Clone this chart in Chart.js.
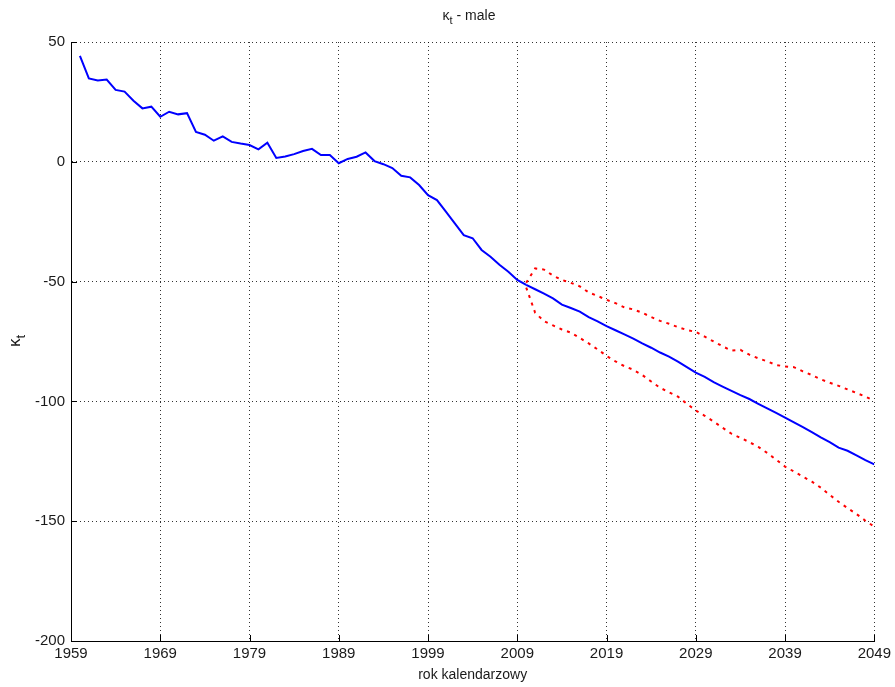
<!DOCTYPE html>
<html>
<head>
<meta charset="utf-8">
<script src="https://cdn.jsdelivr.net/npm/chart.js@4.4.0/dist/chart.umd.min.js"></script>
<style>
  body { margin: 0; background: #fff; }
</style>
</head>
<body>
<canvas id="chart" width="895" height="687"></canvas>
<script>
// observed kappa_t (males), 1960-2010
const histYears = [1960, 1961, 1962, 1963, 1964, 1965, 1966, 1967, 1968, 1969,
  1970, 1971, 1972, 1973, 1974, 1975, 1976, 1977, 1978, 1979,
  1980, 1981, 1982, 1983, 1984, 1985, 1986, 1987, 1988, 1989,
  1990, 1991, 1992, 1993, 1994, 1995, 1996, 1997, 1998, 1999,
  2000, 2001, 2002, 2003, 2004, 2005, 2006, 2007, 2008, 2009, 2010];
const histKappa = [44.2, 34.8, 33.9, 34.3, 30.0, 29.3, 25.5, 22.3, 23.0, 18.8,
  20.9, 19.8, 20.3, 12.5, 11.3, 8.8, 10.6, 8.3, 7.6, 7.0,
  5.2, 8.0, 1.6, 2.2, 3.2, 4.5, 5.4, 2.8, 2.8, -0.6,
  1.2, 2.1, 3.9, 0.3, -1.0, -2.6, -5.8, -6.5, -9.7, -13.9,
  -16.0, -20.8, -25.7, -30.6, -31.9, -36.8, -39.6, -43.0, -45.9, -49.3, -51.4];

// forecast 2010-2049 with bounds
const foreYears = [2010, 2011, 2012, 2013, 2014, 2015, 2016, 2017, 2018, 2019,
  2020, 2021, 2022, 2023, 2024, 2025, 2026, 2027, 2028, 2029,
  2030, 2031, 2032, 2033, 2034, 2035, 2036, 2037, 2038, 2039,
  2040, 2041, 2042, 2043, 2044, 2045, 2046, 2047, 2048, 2049];
const foreKappa = [-51.4, -53.2, -55.0, -57.0, -59.6, -61.0, -62.5, -64.8, -66.6, -68.6,
  -70.3, -72.0, -73.8, -75.8, -77.6, -79.6, -81.3, -83.4, -85.7, -88.0,
  -89.8, -92.0, -93.8, -95.6, -97.4, -99.0, -101.0, -102.9, -104.8, -106.8,
  -108.8, -110.7, -112.8, -115.0, -117.0, -119.3, -120.6, -122.5, -124.5, -126.3];
const upperKappa = [-50.5, -44.5, -45.0, -47.5, -49.3, -50.5, -52.0, -54.5, -56.0, -57.6,
  -59.0, -60.8, -61.6, -63.0, -64.8, -66.4, -67.6, -69.0, -70.2, -71.0,
  -73.0, -75.0, -77.0, -78.8, -78.5, -80.5, -82.0, -83.3, -84.8, -85.4,
  -85.7, -87.5, -89.0, -90.8, -92.2, -93.5, -95.0, -96.5, -98.0, -99.8];
const lowerKappa = [-52.5, -63.0, -66.5, -68.3, -70.0, -71.3, -73.5, -75.8, -78.3, -81.0,
  -83.3, -85.3, -86.8, -89.0, -91.7, -94.3, -96.2, -98.0, -101.0, -103.8,
  -106.0, -108.4, -111.0, -113.5, -115.2, -117.0, -119.0, -121.5, -124.3, -127.2,
  -129.3, -131.4, -133.5, -136.0, -139.0, -141.9, -144.5, -147.0, -149.8, -152.3];

const xTicks = [1959, 1969, 1979, 1989, 1999, 2009, 2019, 2029, 2039, 2049];
const yTicks = [-200, -150, -100, -50, 0, 50];

const FONT = "'Liberation Sans', Arial, sans-serif";
const pts = (xs, ys) => xs.map((x, i) => ({ x: x, y: ys[i] }));

// kappa with subscript t, used by title and y label
function drawKappa(ctx, x, y, rest, size, subSize, subDrop) {
  ctx.font = size + "px " + FONT;
  const wK = ctx.measureText("\u03BA").width;
  const wR = rest ? ctx.measureText(rest).width : 0;
  ctx.font = subSize + "px " + FONT;
  const wT = ctx.measureText("t").width;
  let cx = x - (wK + wT + wR) / 2;
  ctx.textAlign = "left";
  ctx.textBaseline = "middle";
  ctx.font = size + "px " + FONT;
  ctx.fillText("\u03BA", cx, y);
  cx += wK;
  ctx.font = subSize + "px " + FONT;
  ctx.fillText("t", cx, y + subDrop);
  cx += wT;
  if (rest) {
    ctx.font = size + "px " + FONT;
    ctx.fillText(rest, cx, y);
  }
}

const decor = {
  id: "decor",
  afterDraw(chart) {
    const { ctx, chartArea: a, scales } = chart;
    ctx.save();
    // inner tick marks
    ctx.strokeStyle = "#000";
    ctx.lineWidth = 1;
    ctx.beginPath();
    xTicks.forEach(v => {
      const px = Math.round(scales.x.getPixelForValue(v)) + 0.5;
      ctx.moveTo(px, a.bottom);
      ctx.lineTo(px, a.bottom - 6);
    });
    yTicks.forEach(v => {
      const py = Math.round(scales.y.getPixelForValue(v)) + 0.5;
      ctx.moveTo(a.left, py);
      ctx.lineTo(a.left + 6, py);
    });
    ctx.stroke();

    ctx.fillStyle = "#1a1a1a";
    drawKappa(ctx, 469, 16, " - male", 14, 11, 5);

    ctx.font = "14px " + FONT;
    ctx.textAlign = "center";
    ctx.textBaseline = "middle";
    ctx.fillText("rok kalendarzowy", (a.left + a.right) / 2, 675);

    ctx.translate(15, 341);
    ctx.rotate(-Math.PI / 2);
    drawKappa(ctx, 0, 0, "", 17, 13, 6);
    ctx.restore();
  }
};

const gridStyle = { color: "rgba(0,0,0,0.8)", lineWidth: 1, drawTicks: false };
const borderStyle = { display: true, color: "#000", width: 1, dash: [1, 3] };

new Chart(document.getElementById("chart").getContext("2d"), {
  type: "line",
  data: {
    datasets: [
      { data: pts(histYears, histKappa), borderColor: "#0000ff", borderWidth: 2 },
      { data: pts(foreYears, foreKappa), borderColor: "#0000ff", borderWidth: 2 },
      { data: pts(foreYears, upperKappa), borderColor: "#ff0000", borderWidth: 2, borderDash: [3, 5] },
      { data: pts(foreYears, lowerKappa), borderColor: "#ff0000", borderWidth: 2, borderDash: [3, 5] }
    ]
  },
  options: {
    responsive: false,
    animation: false,
    layout: { padding: { top: 42, right: 19, left: 0, bottom: 0 } },
    elements: { point: { radius: 0 }, line: { tension: 0, fill: false } },
    plugins: { legend: { display: false }, tooltip: { enabled: false }, title: { display: false } },
    scales: {
      x: {
        type: "linear", min: 1959, max: 2049,
        afterBuildTicks: s => { s.ticks = xTicks.map(v => ({ value: v })); },
        afterFit: s => { s.height = 46; },
        grid: gridStyle, border: borderStyle,
        ticks: { font: { size: 15, family: FONT }, color: "#1a1a1a", padding: 4, maxRotation: 0, autoSkip: false,
                 callback: v => String(v) }
      },
      y: {
        min: -200, max: 50,
        afterBuildTicks: s => { s.ticks = yTicks.map(v => ({ value: v })); },
        afterFit: s => { s.width = 71; },
        grid: gridStyle, border: borderStyle,
        ticks: { font: { size: 15, family: FONT }, color: "#1a1a1a", padding: 6, callback: v => String(v) }
      }
    }
  },
  plugins: [decor]
});
</script>
</body>
</html>
